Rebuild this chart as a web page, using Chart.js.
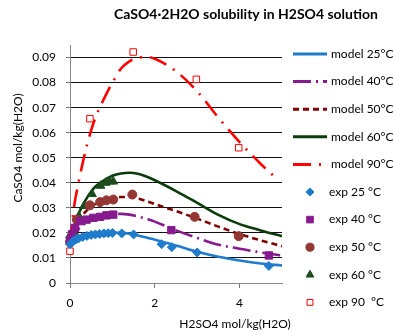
<!DOCTYPE html>
<html>
<head>
<meta charset="utf-8">
<script src="https://cdn.jsdelivr.net/npm/chart.js@4.4.1/dist/chart.umd.min.js"></script>
<style>
  html, body { margin: 0; padding: 0; background: #fff; }
</style>
</head>
<body>
<canvas id="solubility" width="394" height="334"></canvas>
<script>
// model curves (H2SO4 molality -> CaSO4 molality)
const modelX = [0, 0.05, 0.1, 0.2, 0.3, 0.4, 0.5, 0.6, 0.8, 1.0, 1.2, 1.4, 1.6, 1.8, 2.0, 2.5, 3.0, 3.5, 4.0, 4.5, 5.0];
const model25 = [0.0148, 0.0160, 0.0168, 0.0178, 0.0185, 0.0190, 0.0194, 0.0197, 0.0200, 0.0201, 0.0200, 0.0197, 0.0190, 0.0182, 0.0173, 0.0150, 0.0125, 0.0105, 0.0090, 0.0078, 0.0070];
const model40 = [0.0160, 0.0180, 0.0195, 0.0215, 0.0230, 0.0243, 0.0253, 0.0260, 0.0270, 0.0275, 0.0276, 0.0273, 0.0266, 0.0256, 0.0245, 0.0210, 0.0180, 0.0153, 0.0137, 0.0122, 0.0110];
const model50 = [0.0170, 0.0190, 0.0210, 0.0245, 0.0272, 0.0290, 0.0305, 0.0316, 0.0330, 0.0338, 0.0343, 0.0343, 0.0337, 0.0327, 0.0315, 0.0287, 0.0257, 0.0225, 0.0195, 0.0170, 0.0147];
const model60 = [0.0180, 0.0205, 0.0230, 0.0275, 0.0310, 0.0340, 0.0365, 0.0385, 0.0410, 0.0428, 0.0437, 0.0440, 0.0436, 0.0425, 0.0410, 0.0367, 0.0320, 0.0272, 0.0235, 0.0210, 0.0187];
const model90X = [0, 0.05, 0.1, 0.2, 0.3, 0.4, 0.5, 0.6, 0.8, 1.0, 1.2, 1.4, 1.6, 1.8, 2.0, 2.5, 3.0, 3.5, 4.0, 4.5, 4.85];
const model90 = [0.0160, 0.0240, 0.0310, 0.0400, 0.0480, 0.0550, 0.0610, 0.0660, 0.0735, 0.0800, 0.0855, 0.0885, 0.0898, 0.0903, 0.0895, 0.0845, 0.0765, 0.0660, 0.0562, 0.0475, 0.0420];

// experimental points
const exp25X = [0, 0.05, 0.1, 0.15, 0.2, 0.3, 0.4, 0.5, 0.6, 0.7, 0.8, 0.9, 1.0, 1.22, 1.5, 2.16, 2.4, 3.0, 4.69];
const exp25Y = [0.0155, 0.0162, 0.0170, 0.0175, 0.0178, 0.0184, 0.0188, 0.0192, 0.0194, 0.0196, 0.0198, 0.0199, 0.0200, 0.0198, 0.0194, 0.0155, 0.0143, 0.0122, 0.0068];
const exp40X = [0, 0.05, 0.12, 0.24, 0.39, 0.55, 0.71, 0.86, 1.02, 2.39, 4.69];
const exp40Y = [0.0170, 0.0195, 0.0220, 0.0247, 0.0253, 0.0260, 0.0264, 0.0270, 0.0273, 0.0211, 0.0110];
const exp50X = [0, 0.16, 0.47, 0.71, 0.86, 1.02, 1.47, 2.94, 3.98];
const exp50Y = [0.0163, 0.0253, 0.0310, 0.0323, 0.0330, 0.0333, 0.0353, 0.0264, 0.0187];
const exp60X = [0, 0.09, 0.21, 0.33, 0.52, 0.72, 0.84, 0.94, 1.02];
const exp60Y = [0.0190, 0.0205, 0.0267, 0.0307, 0.0355, 0.0388, 0.0400, 0.0405, 0.0405];
const exp90X = [0, 0.47, 1.49, 2.98, 3.98];
const exp90Y = [0.0127, 0.0656, 0.0922, 0.0813, 0.0540];

const xTicks = [0, 2, 4];

const pts = (xs, ys) => xs.map((x, i) => ({ x: x, y: ys[i] }));

const modelLine = (label, xs, ys, color, dash) => ({
  label: label,
  data: pts(xs, ys),
  borderColor: color,
  backgroundColor: color,
  borderWidth: 2.6,
  borderDash: dash,
  pointRadius: 0,
  cubicInterpolationMode: 'monotone',
  order: 2
});

const expPoints = (label, xs, ys, style, radius, fill, stroke, bw) => ({
  label: label,
  data: pts(xs, ys),
  showLine: false,
  pointStyle: style,
  pointRadius: radius,
  backgroundColor: fill,
  borderColor: stroke,
  borderWidth: bw,
  clip: false,
  order: 1
});

const FONT = 'Lato';

// title, axis titles and the side legend
const annotations = {
  id: 'annotations',
  afterDraw(chart) {
    const ctx = chart.ctx;
    ctx.save();
    ctx.fillStyle = '#000';
    ctx.textBaseline = 'middle';
    ctx.textAlign = 'center';
    ctx.font = 'bold 14px ' + FONT;
    ctx.fillText('CaSO4·2H2O solubility in H2SO4 solution', 246, 14);
    ctx.font = '12px ' + FONT;
    ctx.fillText('H2SO4 mol/kg(H2O)', 235, 324);
    ctx.save();
    ctx.translate(18, 148);
    ctx.rotate(-Math.PI / 2);
    ctx.fillText('CaSO4 mol/kg(H2O)', 0, 0);
    ctx.restore();

    ctx.textAlign = 'left';
    chart.data.datasets.forEach((ds, i) => {
      const y = 54 + i * 27.6;
      ctx.save();
      if (ds.showLine === false) {
        ctx.fillStyle = ds.backgroundColor;
        ctx.strokeStyle = ds.borderColor;
        ctx.lineWidth = ds.borderWidth;
        Chart.helpers.drawPoint(ctx, { pointStyle: ds.pointStyle, radius: ds.pointRadius * 0.9, borderWidth: ds.borderWidth, rotation: 0 }, 310, y);
      } else {
        ctx.strokeStyle = ds.borderColor;
        ctx.lineWidth = 3;
        ctx.setLineDash(ds.borderDash || []);
        ctx.beginPath();
        ctx.moveTo(293, y);
        ctx.lineTo(327, y);
        ctx.stroke();
      }
      ctx.restore();
      ctx.fillStyle = '#000';
      ctx.fillText(ds.label, ds.showLine === false ? 329 : 331, y);
    });
    ctx.restore();
  }
};

new Chart('solubility', {
  type: 'line',
  data: {
    datasets: [
      modelLine('model 25°C', modelX, model25, '#1f7ccc', []),
      modelLine('model 40°C', modelX, model40, '#861a8e', [18, 5, 2, 5]),
      modelLine('model 50°C', modelX, model50, '#7f0000', [6, 4]),
      modelLine('model 60°C', modelX, model60, '#0b3b0b', []),
      modelLine('model 90°C', model90X, model90, '#ff0000', [18, 8, 2, 8]),
      expPoints('exp 25 °C', exp25X, exp25Y, 'rectRot', 4.5, '#1f7ccc', '#1f7ccc', 1),
      expPoints('exp 40 °C', exp40X, exp40Y, 'rect', 5.2, '#861a8e', '#861a8e', 1),
      expPoints('exp 50 °C', exp50X, exp50Y, 'circle', 4.5, '#943634', '#943634', 1),
      expPoints('exp 60 °C', exp60X, exp60Y, 'triangle', 5, '#1d4d1d', '#1d4d1d', 1),
      expPoints('exp 90  °C', exp90X, exp90Y, 'rect', 4.6, '#ffffff', '#ff0000', 1)
    ]
  },
  options: {
    responsive: false,
    animation: false,
    devicePixelRatio: 1,
    layout: { padding: { top: 45, right: 112, bottom: 23, left: 30 } },
    plugins: {
      legend: { display: false },
      title: { display: false },
      tooltip: { enabled: false }
    },
    scales: {
      x: {
        type: 'linear',
        min: 0,
        max: 5,
        afterFit: (s) => { s.height = 28; },
        afterBuildTicks: (s) => { s.ticks = xTicks.map(v => ({ value: v })); },
        ticks: { font: { family: FONT, size: 12 }, color: '#000', padding: 8, maxRotation: 0 },
        grid: { drawOnChartArea: false, tickLength: 5, tickColor: '#777' },
        border: { color: '#888', width: 1 }
      },
      y: {
        min: 0,
        max: 0.095,
        afterFit: (s) => { s.width = 40; },
        ticks: { stepSize: 0.01, includeBounds: false, font: { family: FONT, size: 12 }, color: '#000', padding: 10 },
        grid: {
          color: (c) => (c.tick && c.tick.value === 0 ? '#888' : '#111'),
          lineWidth: 1,
          tickLength: 4,
          tickColor: '#777'
        },
        border: { color: '#888', width: 1 }
      }
    }
  },
  plugins: [annotations]
});
</script>
</body>
</html>
